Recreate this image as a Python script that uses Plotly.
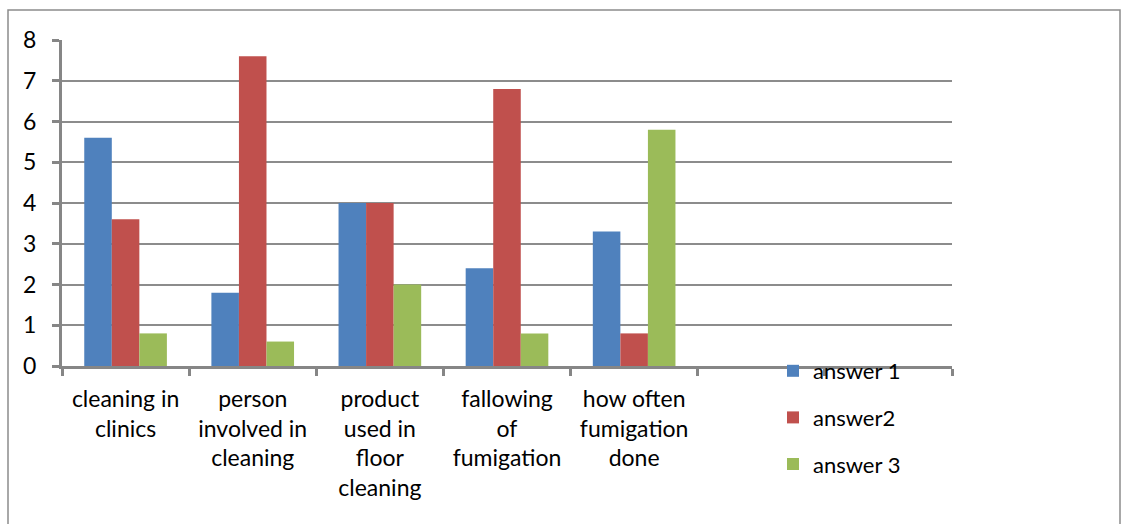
import plotly.graph_objects as go

categories = [
    "cleaning in<br>clinics",
    "person<br>involved in<br>cleaning",
    "product<br>used in<br>floor<br>cleaning",
    "fallowing<br>of<br>fumigation",
    "how often<br>fumigation<br>done",
    " ",
    "  ",
]
answer1 = [5.6, 1.8, 4.0, 2.4, 3.3, None, None]
answer2 = [3.6, 7.6, 4.0, 6.8, 0.8, None, None]
answer3 = [0.8, 0.6, 2.0, 0.8, 5.8, None, None]
series_names = ["answer 1", "answer2", "answer 3"]
series_colors = ["#4F81BD", "#C0504D", "#9BBB59"]

FONT = "Lato"
W, H = 1126, 524
L, R, T, B = 62, 174, 40, 158
pw, ph = W - L - R, H - T - B

fig = go.Figure()
for name, vals, col in zip(series_names, [answer1, answer2, answer3], series_colors):
    fig.add_trace(go.Bar(
        x=categories, y=vals, name=name, legendgroup=name,
        marker=dict(color=col, line=dict(width=0)),
    ))

# outer chart frame
def px_x(v):
    return (v - L) / pw

def px_y(v):
    return (H - B - v) / ph

fig.add_shape(type="rect", xref="paper", yref="paper",
              x0=px_x(8), x1=px_x(1120), y0=px_y(540), y1=px_y(10),
              line=dict(color="#8c8c8c", width=1.5), fillcolor="rgba(0,0,0,0)",
              layer="below")

fig.update_layout(
    width=W, height=H,
    margin=dict(l=L, r=R, t=T, b=B),
    paper_bgcolor="white", plot_bgcolor="white",
    barmode="group", bargap=0.35, bargroupgap=0,
    font=dict(family=FONT, size=22, color="#000000"),
    showlegend=True,
    legend=dict(x=px_x(773), y=px_y(350), xanchor="left", yanchor="top",
                traceorder="grouped", tracegroupgap=15,
                font=dict(family=FONT, size=22, color="#000000"),
                bgcolor="rgba(0,0,0,0)", itemwidth=30),
    xaxis=dict(
        type="category", tickson="boundaries",
        showline=True, linecolor="#868686", linewidth=3,
        ticks="outside", ticklen=7, tickwidth=3, tickcolor="#868686",
        showgrid=False, tickfont=dict(family=FONT, size=23),
        range=[-0.5, 6.5], ticklabelstandoff=10,
    ),
    yaxis=dict(
        range=[0, 8], dtick=1,
        showline=True, linecolor="#868686", linewidth=3,
        ticks="outside", ticklen=7, tickwidth=3, tickcolor="#868686",
        showgrid=True, gridcolor="#8c8c8c", gridwidth=2,
        zeroline=False, tickfont=dict(family=FONT, size=23),
        ticklabelstandoff=11,
    ),
)

fig.write_html("out.html")
